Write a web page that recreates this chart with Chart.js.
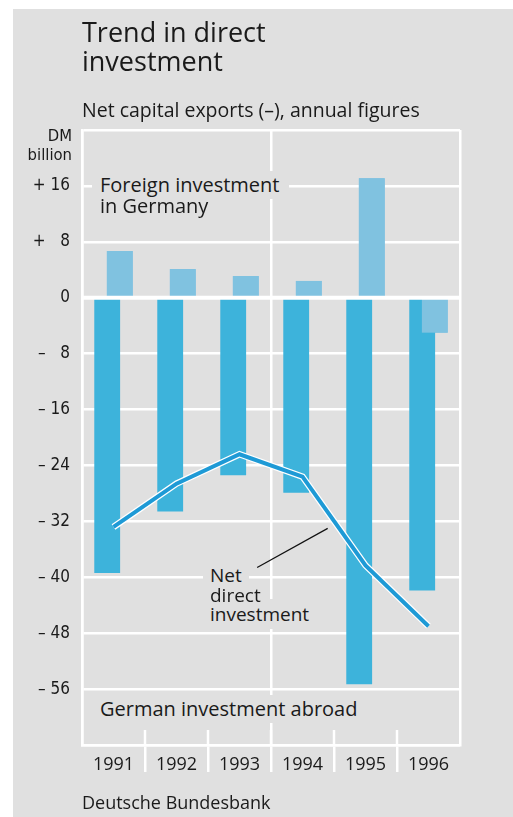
<!DOCTYPE html>
<html><head><meta charset="utf-8">
<script src="https://cdn.jsdelivr.net/npm/chart.js@4.4.1/dist/chart.umd.min.js"></script>
<style>
html,body{margin:0;padding:0;background:#fff;}
body{width:513px;height:817px;position:relative;overflow:hidden;font-family:"Open Sans",sans-serif;color:#1a1a1a;}
#bg{position:absolute;left:13px;top:9px;width:500px;height:808px;background:#e0e0e0;}
#c{position:absolute;left:0;top:0;}
.t{position:absolute;white-space:nowrap;}
.g{background:#e0e0e0;}
.cond{font-family:"Liberation Sans Narrow","DejaVu Sans Condensed","Roboto Condensed",sans-serif;}
</style></head>
<body>
<div id="bg"></div>
<canvas id="c" width="513" height="817"></canvas>
<div class="t" style="left:82px;top:17px;font-size:27px;line-height:29.4px;">Trend in direct<br>investment</div>
<div class="t" style="left:82px;top:96.7px;font-size:19.5px;line-height:26px;">Net capital exports (–), annual figures</div>
<div class="t cond" style="right:441px;top:125.8px;font-size:16.5px;line-height:19px;text-align:right;">DM<br>billion</div>
<div class="t g" style="left:92px;top:170.5px;font-size:20px;line-height:28px;padding:0 10px 0 8px;">Foreign investment</div>
<div class="t g" style="left:92px;top:695px;font-size:20px;line-height:28px;padding:0 10px 0 8px;">German investment abroad</div>
<div class="t g" style="left:203px;top:562.3px;font-size:19px;line-height:26px;padding:0 7px;">Net</div>
<div class="t g" style="left:203px;top:599.3px;font-size:19px;line-height:30px;padding:0 7px;">investment</div>
<div class="t" style="left:100px;top:191.7px;font-size:20px;line-height:28px;">in Germany</div>
<div class="t" style="left:210px;top:582.3px;font-size:19px;line-height:26px;">direct</div>
<div class="t" style="left:82px;top:790px;font-size:18px;line-height:24.5px;">Deutsche Bundesbank</div>
<script>
// ---- data ----
const years = ['1991', '1992', '1993', '1994', '1995', '1996'];
const germanInvestmentAbroad = [-39.4, -30.6, -25.4, -27.9, -55.3, -41.9];
const foreignInvestmentInGermany = [6.7, 4.1, 3.1, 2.4, 17.1, -5.0];
const netDirectInvestment = [-32.8, -26.6, -22.4, -25.6, -38.3, -47.0];
const yMin = -64;
const yMax = 24;
const yStep = 8;
const yLabelledTicks = [16, 8, 0, -8, -16, -24, -32, -40, -48, -56];

const COND = '"Liberation Sans Narrow", "DejaVu Sans Condensed", "Roboto Condensed", sans-serif';
const WHITE = '#ffffff';

function fmtTick(v) {
  if (!yLabelledTicks.includes(v)) return '';
  if (v === 0) return '0';
  const sign = v > 0 ? '+' : '\u2013';
  const a = Math.abs(v);
  return sign + ' ' + (a < 10 ? '\u2007' : '') + a;
}

const overlay = {
  id: 'overlay',
  beforeDatasetsDraw(chart) {
    const {ctx, chartArea: a, scales: {x}} = chart;
    ctx.save();
    ctx.strokeStyle = WHITE;
    ctx.lineWidth = 2.5;
    for (let i = 1; i < years.length; i++) {
      const px = x.getPixelForValue(i - 0.5);
      ctx.beginPath();
      ctx.moveTo(px, a.bottom - 15);
      ctx.lineTo(px, a.bottom);
      ctx.stroke();
    }
    ctx.restore();
  },
  afterDatasetsDraw(chart) {
    const {ctx, chartArea: a, scales: {x, y}} = chart;
    // foreign investment bars lie over the German investment bars
    chart.getDatasetMeta(1).controller.draw();
    ctx.save();
    ctx.strokeStyle = WHITE;
    ctx.lineWidth = 4;
    const y0 = y.getPixelForValue(0);
    ctx.beginPath();
    ctx.moveTo(a.left, y0);
    ctx.lineTo(a.right, y0);
    ctx.stroke();
    // leader line for the "Net direct investment" label
    ctx.strokeStyle = '#111';
    ctx.lineWidth = 1.2;
    ctx.beginPath();
    ctx.moveTo(x.getPixelForValue(2.28), y.getPixelForValue(-38.6));
    ctx.lineTo(x.getPixelForValue(3.40), y.getPixelForValue(-33.0));
    ctx.stroke();
    ctx.restore();
  }
};

new Chart(document.getElementById('c'), {
  type: 'bar',
  data: {
    labels: years,
    datasets: [
      {
        label: 'German investment abroad',
        data: germanInvestmentAbroad,
        backgroundColor: '#3db3db',
        borderWidth: 0,
        categoryPercentage: 0.4,
        barPercentage: 2.05,
        order: 0
      },
      {
        label: 'Foreign investment in Germany',
        data: foreignInvestmentInGermany,
        backgroundColor: '#80c2e0',
        borderWidth: 0,
        categoryPercentage: 0.4,
        barPercentage: 2.05,
        order: 0
      },
      {
        type: 'line',
        label: 'Net direct investment (edge)',
        data: netDirectInvestment,
        borderColor: WHITE,
        borderWidth: 6.5,
        pointRadius: 0,
        tension: 0,
        borderJoinStyle: 'miter',
        borderCapStyle: 'butt',
        fill: false,
        order: -1
      },
      {
        type: 'line',
        label: 'Net direct investment',
        data: netDirectInvestment,
        borderColor: '#1e9ad6',
        borderWidth: 4,
        pointRadius: 0,
        tension: 0,
        borderJoinStyle: 'miter',
        borderCapStyle: 'butt',
        fill: false,
        order: -2
      }
    ]
  },
  options: {
    responsive: false,
    devicePixelRatio: 1,
    animation: false,
    layout: {padding: {top: 130, right: 53, left: 0, bottom: 0}},
    plugins: {legend: {display: false}, tooltip: {enabled: false}, title: {display: false}},
    scales: {
      x: {
        offset: true,
        grid: {
          offset: true,
          color: (c) => (c.index === undefined || c.index === 0 || c.index === 3) ? WHITE : 'rgba(0,0,0,0)',
          tickColor: (c) => (c.index >= 1 && c.index <= 5) ? WHITE : 'rgba(0,0,0,0)',
          lineWidth: 2.5,
          drawTicks: true,
          tickLength: 27
        },
        border: {color: WHITE, width: 2.5},
        ticks: {
          padding: -18,
          color: '#1a1a1a',
          font: {family: '"Open Sans", sans-serif', size: 18},
          maxRotation: 0,
          autoSkip: false
        },
        afterFit(s) { s.height = 72; }
      },
      y: {
        min: yMin,
        max: yMax,
        ticks: {
          stepSize: yStep,
          padding: 12,
          color: '#1a1a1a',
          font: {family: COND, size: 17},
          callback: (v) => fmtTick(v),
          autoSkip: false
        },
        grid: {color: WHITE, lineWidth: 2.5, drawTicks: false},
        border: {color: WHITE, width: 2.5},
        afterFit(s) { s.width = 82; }
      }
    }
  },
  plugins: [overlay]
});
</script>
</body></html>
